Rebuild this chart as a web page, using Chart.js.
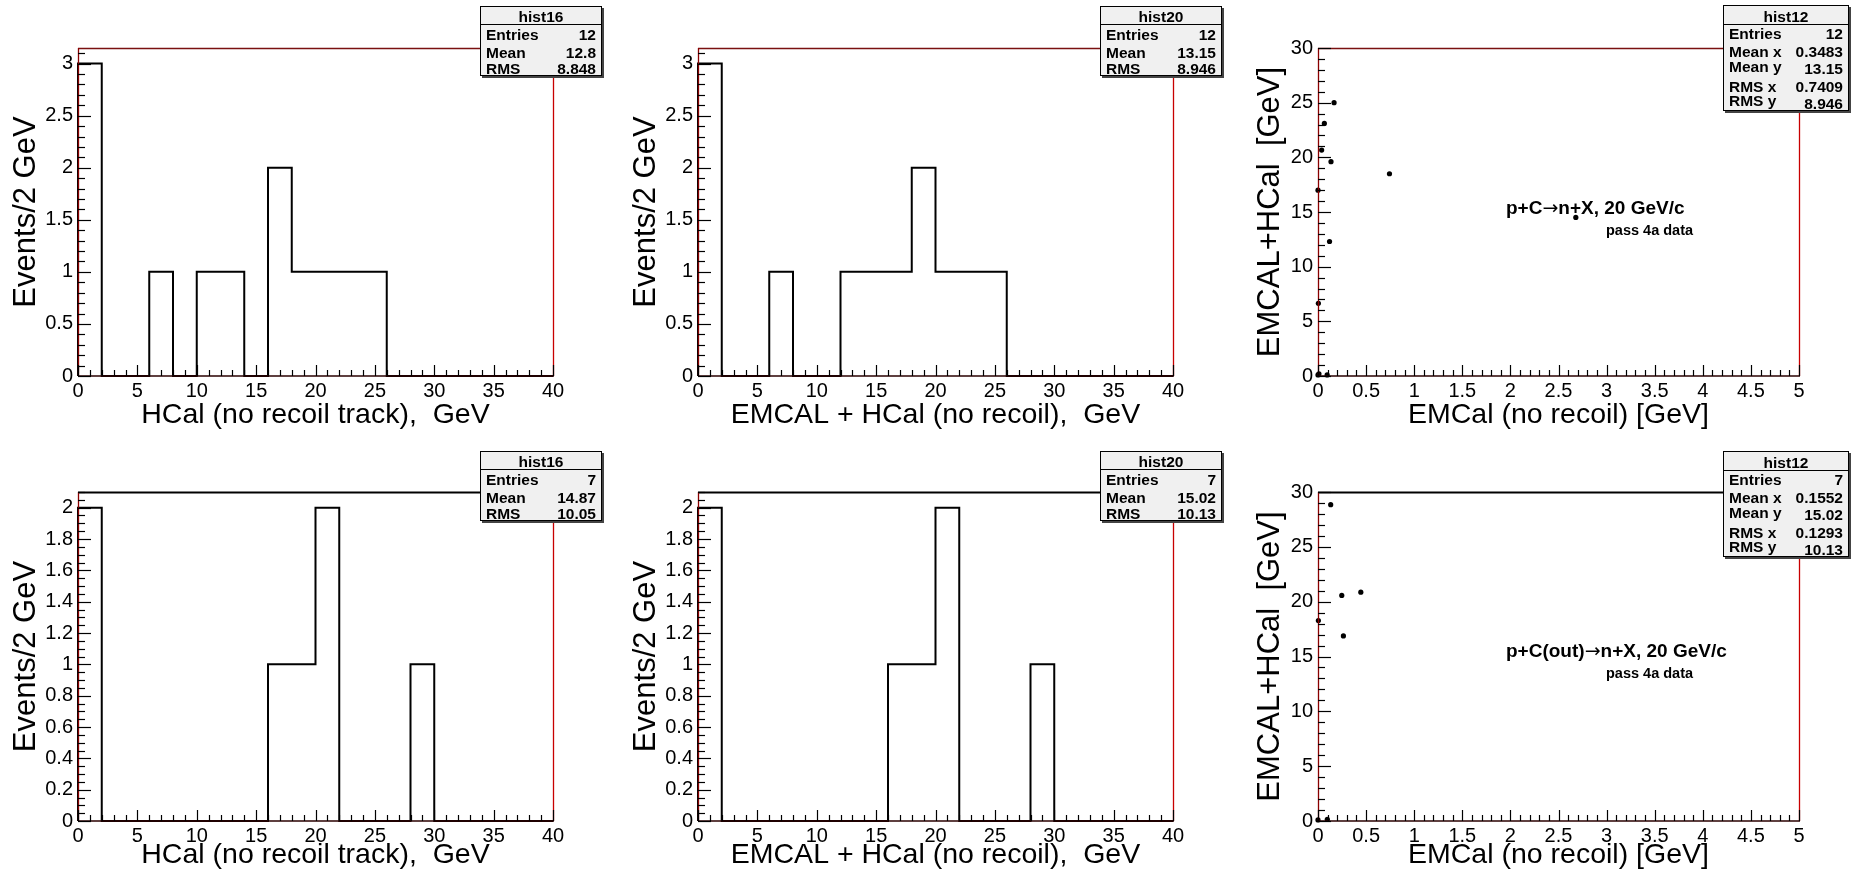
<!DOCTYPE html>
<html><head><meta charset="utf-8">
<script src="https://cdn.jsdelivr.net/npm/chart.js@4.4.1/dist/chart.umd.min.js"></script>
<style>
body{margin:0;background:#fff;}
#wrap{position:relative;width:1853px;height:876px;overflow:hidden;font-family:"Liberation Sans",Arial,sans-serif;background:#fff;}
canvas{position:absolute;}
.stat{position:absolute;background:#f0f0f0;border:1px solid #000;box-shadow:2px 2px 0 #444;font-weight:bold;font-size:15.5px;color:#000;box-sizing:border-box;}
.stat .hl{position:absolute;left:0;right:0;border-top:1px solid #000;}
.stat span{position:absolute;line-height:1;white-space:nowrap;transform:translateY(-50%);}
.ann{position:absolute;font-weight:bold;white-space:nowrap;line-height:1;transform:translateY(-50%);color:#000;}
.ann .arr{font-family:"DejaVu Sans",sans-serif;font-weight:normal;}
</style></head><body><div id="wrap"></div>
<script>
// ---------------- data ----------------
const binEdges = [0,2,4,6,8,10,12,14,16,18,20,22,24,26,28,30,32,34,36,38,40];
const hcalTopCounts   = [3,0,0,1,0,1,1,0,2,1,1,1,1,0,0,0,0,0,0,0];
const sumTopCounts    = [3,0,0,1,0,0,1,1,1,2,1,1,1,0,0,0,0,0,0,0];
const hcalBotCounts   = [2,0,0,0,0,0,0,0,1,1,2,0,0,0,1,0,0,0,0,0];
const sumBotCounts    = [2,0,0,0,0,0,0,0,1,1,2,0,0,0,1,0,0,0,0,0];
const scatTopX = [0.167,0.066,0.038,0.135,0.743,0.0,2.68,0.12,0.004,0.01,0.0,0.095];
const scatTopY = [25.0,23.1,20.66,19.6,18.5,17.0,14.5,12.3,6.65,0.2,0.1,0.1];
const scatBotX = [0.132,0.247,0.445,0.004,0.264,0.097,0.0];
const scatBotY = [28.84,20.57,20.87,18.28,16.88,0.15,0.1];
const statHist16Top = {name:'hist16', labels:['Entries','Mean','RMS'], values:['12','12.8','8.848']};
const statHist20Top = {name:'hist20', labels:['Entries','Mean','RMS'], values:['12','13.15','8.946']};
const statHist12Top = {name:'hist12', labels:['Entries','Mean x','Mean y','RMS x','RMS y'], values:['12','0.3483','13.15','0.7409','8.946']};
const statHist16Bot = {name:'hist16', labels:['Entries','Mean','RMS'], values:['7','14.87','10.05']};
const statHist20Bot = {name:'hist20', labels:['Entries','Mean','RMS'], values:['7','15.02','10.13']};
const statHist12Bot = {name:'hist12', labels:['Entries','Mean x','Mean y','RMS x','RMS y'], values:['7','0.1552','15.02','0.1293','10.13']};
const annTop = ['p+C', '\u2192', 'n+X, 20 GeV/c', 'pass 4a data'];
const annBot = ['p+C(out)', '\u2192', 'n+X, 20 GeV/c', 'pass 4a data'];

// ---------------- helpers ----------------
Chart.defaults.font.family = '"Liberation Sans", Arial, sans-serif';
Chart.defaults.color = '#000';

function histOutline(edges, counts){
  const pts = [{x:edges[0], y:0}];
  for (let i=0;i<counts.length;i++){
    pts.push({x:edges[i], y:counts[i]});
    pts.push({x:edges[i+1], y:counts[i]});
  }
  pts.push({x:edges[edges.length-1], y:0});
  return pts;
}
function zip(xs, ys){ return xs.map((v,i)=>({x:v, y:ys[i]})); }
const fmt = v => String(Math.round(v*100)/100);
const isMult = (v, s) => { const r = v/s; return Math.abs(r-Math.round(r))<1e-6; };

const rootFrame = {
  id:'rootFrame',
  afterDatasetsDraw(chart, args, o){
    const {ctx, chartArea:a, scales:{x,y}} = chart;
    ctx.save();
    ctx.strokeStyle = '#c80000'; ctx.lineWidth = 1.3;
    ctx.beginPath(); ctx.moveTo(a.right+0.5, a.top); ctx.lineTo(a.right+0.5, a.bottom); ctx.stroke();
    ctx.strokeStyle = o.topColor; ctx.lineWidth = o.topWidth;
    ctx.beginPath(); ctx.moveTo(a.left, a.top+0.5); ctx.lineTo(a.right+1, a.top+0.5); ctx.stroke();
    ctx.strokeStyle = '#8a0000'; ctx.lineWidth = 1.3;
    ctx.beginPath(); ctx.moveTo(a.left+0.5, a.top); ctx.lineTo(a.left+0.5, a.bottom); ctx.stroke();
    ctx.strokeStyle = '#2a0000'; ctx.lineWidth = 1.6;
    ctx.beginPath(); ctx.moveTo(a.left, a.bottom); ctx.lineTo(a.right+1, a.bottom); ctx.stroke();
    ctx.strokeStyle = '#000'; ctx.lineWidth = 1.2;
    const nx = Math.round((x.max - x.min)/o.xMinor);
    for (let i=0;i<=nx;i++){
      const v = x.min + i*o.xMinor;
      const major = isMult(v, o.xMajor);
      const px = Math.round(x.getPixelForValue(v))+0.5;
      ctx.beginPath(); ctx.moveTo(px, a.bottom); ctx.lineTo(px, a.bottom-(major?11:6)); ctx.stroke();
    }
    const ny = Math.floor((y.max - y.min)/o.yMinor + 1e-6);
    for (let i=0;i<=ny;i++){
      const v = y.min + i*o.yMinor;
      const major = isMult(v, o.yMajor);
      const py = Math.round(y.getPixelForValue(v))+0.5;
      ctx.beginPath(); ctx.moveTo(a.left, py); ctx.lineTo(a.left+(major?13:7), py); ctx.stroke();
    }
    ctx.restore();
  }
};

const wrap = document.getElementById('wrap');

function makePanel(p){
  const cv = document.createElement('canvas');
  cv.width = p.w; cv.height = p.h;
  cv.style.left = p.cx+'px'; cv.style.top = p.cy+'px';
  cv.style.width = p.w+'px'; cv.style.height = p.h+'px';
  wrap.appendChild(cv);
  const isHist = p.kind === 'hist';
  const dataset = isHist ? {
      type:'line', data: histOutline(binEdges, p.counts), borderColor:'#000', borderWidth:2,
      pointRadius:0, tension:0, fill:false, clip:false
    } : {
      type:'scatter', data: zip(p.xs, p.ys), backgroundColor:'#000', borderColor:'#000',
      pointRadius:2.6, pointBorderWidth:0, clip:false
    };
  const keepMult = step => (s) => { s.ticks = s.ticks.filter(t => isMult(t.value, step)); };
  new Chart(cv, {
    type: isHist ? 'line' : 'scatter',
    data: {datasets:[dataset]},
    options: {
      responsive:false, animation:false, devicePixelRatio:1,
      layout:{padding:{left:0, top:p.T, right:p.w-p.R, bottom:0}},
      plugins:{legend:{display:false}, tooltip:{enabled:false},
        rootFrame:{xMajor:p.xMajor, xMinor:p.xMinor, yMajor:p.yMajor, yMinor:p.yMinor, topColor:p.topColor, topWidth:p.topWidth}},
      scales:{
        x:{type:'linear', position:'bottom', min:p.xMin, max:p.xMax, bounds:'data',
           grid:{display:false, drawTicks:false}, border:{display:false},
           ticks:{stepSize:p.xMajor, includeBounds:false, autoSkip:false, maxRotation:0, padding:p.xTickPad,
                  font:{size:20}, callback:fmt},
           afterBuildTicks: keepMult(p.xMajor),
           title:{display:true, text:p.xTitle, font:{size:28.5, lineHeight:1}, padding:{top:0, bottom:p.xTitlePad}},
           afterFit:(s)=>{ s.height = p.h - p.B; }},
        y:{type:'linear', position:'left', min:p.yMin, max:p.yMax, bounds:'data',
           grid:{display:false, drawTicks:false}, border:{display:false},
           ticks:{stepSize:p.yMajor, includeBounds:false, padding:5, font:{size:20}, callback:fmt},
           afterBuildTicks: keepMult(p.yMajor),
           title:{display:true, text:p.yTitle, font:{size:31, lineHeight:1}, padding:{top:p.yTitlePad, bottom:0}},
           afterFit:(s)=>{ s.width = p.L; }}
      }
    },
    plugins:[rootFrame]
  });
}

function makeStat(s, box){
  const d = document.createElement('div');
  d.className = 'stat';
  d.style.left = box.x+'px'; d.style.top = box.y+'px';
  d.style.width = box.w+'px'; d.style.height = box.h+'px';
  const hd = document.createElement('span');
  hd.textContent = s.name; hd.style.left='0'; hd.style.right='0'; hd.style.textAlign='center';
  hd.style.top = box.headY+'px';
  d.appendChild(hd);
  const hl = document.createElement('div'); hl.className='hl'; hl.style.top = box.lineY+'px'; d.appendChild(hl);
  s.labels.forEach((lab,i)=>{
    const a = document.createElement('span'); a.textContent = lab; a.style.left='5px'; a.style.top = box.rowY[i]+'px'; d.appendChild(a);
    const b = document.createElement('span'); b.textContent = s.values[i]; b.style.right='5px'; b.style.top = box.valY[i]+'px'; d.appendChild(b);
  });
  wrap.appendChild(d);
}

function makeAnn(parts, x1, y1, x2, y2){
  const a = document.createElement('div'); a.className='ann';
  a.appendChild(document.createTextNode(parts[0]));
  const ar = document.createElement('span'); ar.className='arr'; ar.textContent = parts[1]; a.appendChild(ar);
  a.appendChild(document.createTextNode(parts[2]));
  a.style.left = x1+'px'; a.style.top = y1+'px'; a.style.fontSize='19px'; wrap.appendChild(a);
  const b = document.createElement('div'); b.className='ann'; b.textContent = parts[3];
  b.style.left = x2+'px'; b.style.top = y2+'px'; b.style.fontSize='14.5px'; wrap.appendChild(b);
}

// ---------------- layout ----------------
const histTitleY = 'Events/2 GeV';
const rowTop = {cy:0, h:438, T:48, B:376, topColor:'#7a1010', topWidth:1.3, xTitlePad:8.5, xTickPad:3};
const rowBot = {cy:438, h:438, T:54, B:383, topColor:'#000', topWidth:2, xTitlePad:6.5, xTickPad:3};

const panels = [
  Object.assign({kind:'hist', cx:0,    w:618, L:78, R:553, counts:hcalTopCounts, xMin:0,xMax:40,xMajor:5,xMinor:1, yMin:0,yMax:3.15,yMajor:0.5,yMinor:0.1,
    xTitle:'HCal (no recoil track),  GeV', yTitle:histTitleY, yTitlePad:11}, rowTop),
  Object.assign({kind:'hist', cx:618,  w:618, L:80, R:555, counts:sumTopCounts, xMin:0,xMax:40,xMajor:5,xMinor:1, yMin:0,yMax:3.15,yMajor:0.5,yMinor:0.1,
    xTitle:'EMCAL + HCal (no recoil),  GeV', yTitle:histTitleY, yTitlePad:13}, rowTop),
  Object.assign({kind:'scat', cx:1236, w:617, L:82, R:563, xs:scatTopX, ys:scatTopY, xMin:0,xMax:5,xMajor:0.5,xMinor:0.1, yMin:0,yMax:30,yMajor:5,yMinor:1,
    xTitle:'EMCal (no recoil) [GeV]', yTitle:'EMCAL+HCal  [GeV]', yTitlePad:19}, rowTop),
  Object.assign({kind:'hist', cx:0,    w:618, L:78, R:553, counts:hcalBotCounts, xMin:0,xMax:40,xMajor:5,xMinor:1, yMin:0,yMax:2.1,yMajor:0.2,yMinor:0.05,
    xTitle:'HCal (no recoil track),  GeV', yTitle:histTitleY, yTitlePad:11}, rowBot),
  Object.assign({kind:'hist', cx:618,  w:618, L:80, R:555, counts:sumBotCounts, xMin:0,xMax:40,xMajor:5,xMinor:1, yMin:0,yMax:2.1,yMajor:0.2,yMinor:0.05,
    xTitle:'EMCAL + HCal (no recoil),  GeV', yTitle:histTitleY, yTitlePad:13}, rowBot),
  Object.assign({kind:'scat', cx:1236, w:617, L:82, R:563, xs:scatBotX, ys:scatBotY, xMin:0,xMax:5,xMajor:0.5,xMinor:0.1, yMin:0,yMax:30,yMajor:5,yMinor:1,
    xTitle:'EMCal (no recoil) [GeV]', yTitle:'EMCAL+HCal  [GeV]', yTitlePad:19}, rowBot)
];
panels.forEach(makePanel);

const histBox = {w:122, h:70, headY:10, lineY:17, rowY:[28,46,62], valY:[28,46,62]};
const scatBox = {w:126, h:106, headY:11, lineY:18, rowY:[28,46,61,81,95], valY:[28,46,63,81,98]};
makeStat(statHist16Top, Object.assign({x:480,  y:6},  histBox));
makeStat(statHist20Top, Object.assign({x:1100, y:6},  histBox));
makeStat(statHist12Top, Object.assign({x:1723, y:5},  scatBox));
makeStat(statHist16Bot, Object.assign({x:480,  y:451}, histBox));
makeStat(statHist20Bot, Object.assign({x:1100, y:451}, histBox));
makeStat(statHist12Bot, Object.assign({x:1723, y:451}, scatBox));

makeAnn(annTop, 1506, 207, 1606, 230);
makeAnn(annBot, 1506, 650, 1606, 673);
</script></body></html>
